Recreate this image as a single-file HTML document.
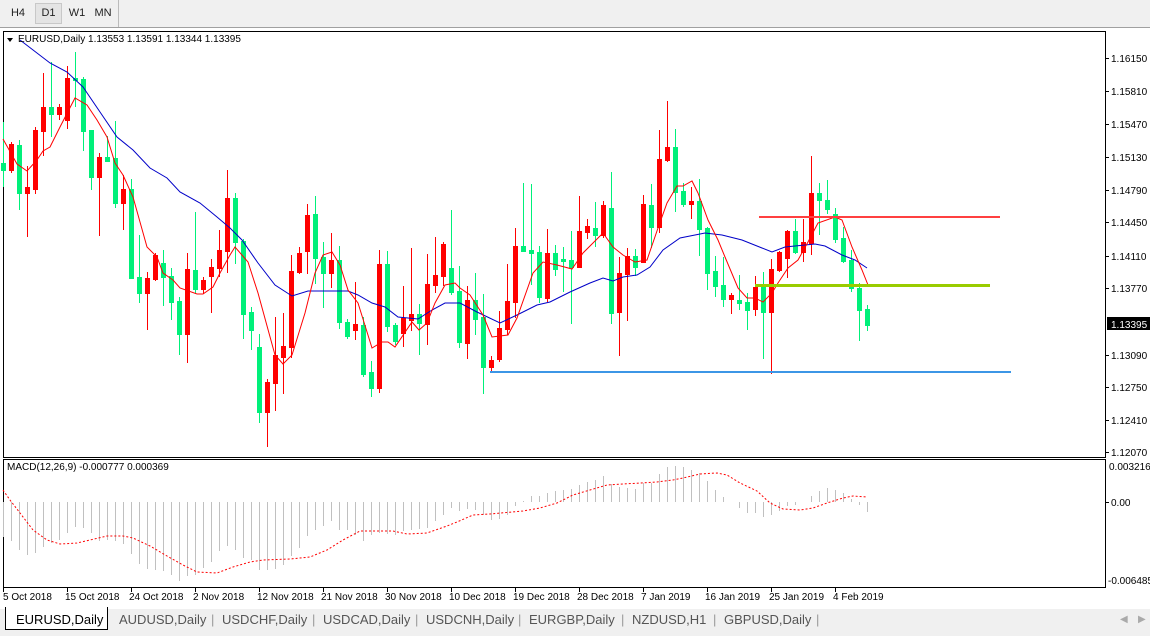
<!DOCTYPE html>
<html><head><meta charset="utf-8"><style>
body{margin:0;width:1150px;height:636px;background:#fff;overflow:hidden;font-family:"Liberation Sans",sans-serif;}
.tb{position:absolute;left:0;top:0;width:1150px;height:27px;background:#f0f0f0;border-bottom:1px solid #a0a0a0;}
.tb span{position:absolute;top:4px;height:19px;font-size:11px;line-height:19px;text-align:center;color:#222;}
.tabs{position:absolute;left:0;top:609px;width:1150px;height:27px;background:#f0f0f0;}
.tabs span{position:absolute;top:3px;font-size:13px;color:#555;}
</style></head><body>
<div class="tb">
<span style="left:5px;width:26px">H4</span>
<span style="left:35px;width:25px;background:#e4e4e4;border:1px solid #c8c8c8;top:3px">D1</span>
<span style="left:64px;width:26px">W1</span>
<span style="left:92px;width:22px">MN</span>
<div style="position:absolute;left:118px;top:0;width:1px;height:27px;background:#bbb"></div>
</div>
<svg id="s" width="1150" height="636" style="position:absolute;left:0;top:0" font-family="Liberation Sans, sans-serif" font-size="10"></svg>
<div class="tabs">
<div style="position:absolute;left:5px;top:-2px;width:101px;height:22px;background:#fff;border:1px solid #000;border-top:none"></div>
<span style="left:16px;color:#000;top:3px">EURUSD,Daily</span>
<span style="left:119px">AUDUSD,Daily</span>
<span style="left:222px">USDCHF,Daily</span>
<span style="left:323px">USDCAD,Daily</span>
<span style="left:426px">USDCNH,Daily</span>
<span style="left:529px">EURGBP,Daily</span>
<span style="left:632px">NZDUSD,H1</span>
<span style="left:724px">GBPUSD,Daily</span>
<span style="left:211px;color:#999">|</span><span style="left:312px;color:#999">|</span><span style="left:415px;color:#999">|</span><span style="left:518px;color:#999">|</span><span style="left:621px;color:#999">|</span><span style="left:713px;color:#999">|</span><span style="left:816px;color:#999">|</span>
<span style="left:1120px;color:#aaa;font-size:10px;top:5px">◀</span><span style="left:1138px;color:#aaa;font-size:10px;top:5px">▶</span>
</div>
<script>
var NS="http://www.w3.org/2000/svg",s=document.getElementById('s');
function el(t,a,txt){var e=document.createElementNS(NS,t);for(var k in a)e.setAttribute(k,a[k]);if(txt!=null)e.textContent=txt;s.appendChild(e);return e;}
el('rect',{x:3.5,y:31.5,width:1102,height:426,fill:'none',stroke:'#000'});
el('rect',{x:3.5,y:459.5,width:1102,height:128,fill:'none',stroke:'#000'});
var C=[[3,163,170,122,186,0],[11,144,170,142,172,1],[19,145,193,140,209,0],[27,187,193,166,236,1],[35,130,189,127,193,1],[43,107,131,73,155,1],[51,107,114,62,136,0],[59,107,114,104,119,1],[67,78,120,66,128,1],[75,78,80,52,106,0],[83,79,131,77,150,0],[91,130,177,130,189,0],[99,157,177,153,235,1],[107,157,161,136,161,0],[115,158,203,121,207,0],[123,189,203,175,229,1],[131,189,278,179,278,0],[139,277,293,235,302,0],[147,278,293,272,329,1],[155,255,279,253,280,1],[163,263,277,250,305,0],[171,276,302,268,319,0],[179,301,334,297,354,0],[187,269,334,253,362,1],[195,270,289,212,293,0],[203,280,289,277,293,1],[211,267,276,259,312,1],[219,250,268,230,276,1],[227,198,251,170,272,1],[235,198,242,193,263,0],[243,241,314,239,338,0],[251,312,330,307,349,0],[259,347,412,334,422,0],[267,382,412,379,446,1],[275,355,383,317,410,1],[283,346,357,313,393,1],[291,271,347,255,357,1],[299,253,272,247,273,1],[307,215,251,204,273,1],[315,214,258,196,283,0],[323,257,273,242,307,0],[331,260,273,233,287,1],[339,260,322,246,328,0],[347,322,336,319,338,0],[355,324,330,282,339,1],[363,325,374,317,376,0],[371,372,388,361,396,0],[379,264,388,250,392,1],[387,264,326,251,331,0],[395,325,341,323,344,0],[403,318,333,286,346,1],[411,314,320,248,330,1],[419,314,323,304,354,0],[427,284,324,254,344,1],[435,275,285,237,292,1],[443,244,276,242,285,1],[451,268,292,210,294,0],[459,291,342,266,347,0],[467,300,343,286,358,1],[475,300,319,273,334,0],[483,317,367,294,393,0],[491,360,367,356,371,1],[499,328,359,311,361,1],[507,301,329,264,334,1],[515,246,302,228,317,1],[523,246,251,183,251,0],[531,250,253,184,284,0],[539,252,297,246,302,0],[547,253,298,229,301,1],[555,253,269,245,275,0],[563,259,261,247,291,0],[571,260,267,231,323,0],[579,231,267,196,267,1],[587,226,232,219,238,1],[595,228,235,202,246,0],[603,205,235,201,237,1],[611,208,313,172,323,0],[619,273,312,257,355,1],[627,256,274,248,320,1],[635,256,267,249,275,0],[643,204,262,195,262,1],[651,205,227,184,247,0],[659,159,227,130,232,1],[667,147,160,101,161,1],[675,147,192,129,211,0],[683,191,204,183,206,0],[691,201,204,187,218,1],[699,201,229,179,255,0],[707,228,273,227,289,0],[715,271,286,256,296,0],[723,285,299,257,306,0],[731,295,299,293,313,1],[739,300,303,275,309,0],[747,302,310,293,329,0],[755,287,309,276,315,1],[763,287,312,272,358,0],[771,269,312,259,373,1],[779,252,270,251,271,1],[787,231,258,230,277,1],[795,231,252,219,253,0],[803,242,252,219,261,1],[811,193,243,156,254,1],[819,193,200,183,234,0],[827,200,209,180,213,0],[835,214,239,208,242,0],[843,238,261,227,262,0],[851,260,288,250,291,0],[859,288,310,283,340,0],[867,309,325,305,330,0]];
C.forEach(function(c){var col=c[5]?'#ff0000':'#00f07a';
el('rect',{x:c[0],y:c[3],width:1,height:c[4]-c[3]+1,fill:col});
el('rect',{x:c[0]-2,y:c[1],width:5,height:Math.max(1,c[2]-c[1]+1),fill:col});});
function pl(p,col,w,d){el('polyline',{points:p,fill:'none',stroke:col,'stroke-width':w,'stroke-dasharray':d||'none'});}
pl("20,40 50,63 67,72 83,87 100,112 117,137 133,150 150,168 167,178 180,192 200,203 217,217 230,228 242,240 258,263 275,285 292,296 308,291 325,291 348,291 358,295 372,303 385,307 398,317 418,319 432,310 445,303 460,303 477,312 500,323 517,315 537,305 550,302 570,292 590,283 603,278 613,281 623,277 637,275 650,267 663,250 680,238 705,233 722,235 742,240 762,248 772,252 785,247 815,244 825,246 842,255 855,260 867,268",'#0000c8',1);
pl("3,139 17,164 27,171 37,160 43,151 50,147 60,127 75,98 87,105 97,120 107,137 115,163 123,175 133,197 147,247 157,257 163,273 173,280 180,288 197,294 203,294 213,287 220,273 230,255 235,247 248,262 258,293 275,355 283,364 292,355 305,313 315,273 323,255 332,252 340,265 348,290 358,303 372,348 382,342 388,342 395,347 412,322 419,330 427,323 435,303 445,285 455,283 460,288 470,295 483,315 492,337 508,335 517,318 533,273 543,262 557,265 572,269 583,253 593,243 603,233 613,247 623,255 635,262 647,260 658,228 667,203 677,186 683,186 692,181 698,193 708,220 718,240 725,257 738,288 747,298 755,298 763,302 772,293 778,283 788,268 798,260 808,242 818,223 835,217 842,220 852,247 862,270 868,285",'#ff0000',1);
el('rect',{x:759,y:216,width:241,height:2,fill:'#ff4040'});
el('rect',{x:755,y:284,width:235,height:3,fill:'#99cc00'});
el('rect',{x:490,y:371,width:521,height:2,fill:'#3c96e6'});
var P=[["1.16150",58],["1.15810",91],["1.15470",124],["1.15130",157],["1.14790",190],["1.14450",222],["1.14110",256],["1.13770",288],["1.13090",355],["1.12750",387],["1.12410",420],["1.12070",452]];
P.forEach(function(p){el('rect',{x:1106,y:p[1],width:3,height:1,fill:'#000'});el('text',{x:1111,y:p[1]+4},p[0]);});
el('rect',{x:1107,y:317,width:43,height:13,fill:'#000'});
el('text',{x:1111,y:328,fill:'#fff'},"1.13395");
el('text',{x:1109,y:470},"0.003216");el('text',{x:1111,y:506},"0.00");el('rect',{x:1106,y:502,width:3,height:1,fill:'#000'});
el('text',{x:1108,y:584},"-0.006485");
el('path',{d:'M7 38 L13 38 L10 42 Z',fill:'#000'});
el('text',{x:18,y:42},"EURUSD,Daily  1.13553 1.13591 1.13344 1.13395");
el('text',{x:7,y:470},"MACD(12,26,9) -0.000777 0.000369");
var H=[[3,537],[11,541],[19,550],[27,555],[35,553],[43,547],[51,543],[59,540],[67,533],[75,527],[83,528],[91,533],[99,541],[107,540],[115,541],[123,544],[131,554],[139,564],[147,569],[155,570],[163,571],[171,575],[179,581],[187,576],[195,575],[203,568],[211,562],[219,551],[227,546],[235,550],[243,558],[251,560],[259,570],[267,570],[275,569],[283,565],[291,556],[299,548],[307,536],[315,530],[323,526],[331,521],[339,530],[347,530],[355,535],[363,541],[371,535],[379,533],[387,534],[395,535],[403,531],[411,530],[419,529],[427,528],[435,521],[443,515],[451,508],[459,511],[467,509],[475,510],[483,515],[491,520],[499,519],[507,515],[515,506],[523,501],[531,496],[539,496],[547,493],[555,491],[563,490],[571,489],[579,485],[587,482],[595,480],[603,476],[611,484],[619,487],[627,488],[635,489],[643,483],[651,483],[659,474],[667,467],[675,466],[683,467],[691,470],[699,473],[707,481],[715,490],[723,497],[739,508],[747,513],[755,513],[763,517],[771,515],[779,511],[787,506],[795,505],[811,496],[819,491],[827,488],[835,490],[843,493],[851,499],[859,505],[867,512]];
H.forEach(function(h){var z=502;el('rect',{x:h[0],y:Math.min(z,h[1]),width:1,height:Math.max(1,Math.abs(h[1]-z)),fill:'#c0c0c0'});});
pl("3,490 10,500 20,513 33,530 47,540 60,544 77,543 90,540 107,536 123,536 133,538 150,546 167,556 183,565 197,572 217,573 233,567 250,562 263,560 290,559 310,557 327,550 343,540 360,531 393,531 407,534 427,533 447,526 457,522 473,515 490,514 523,511 540,508 557,503 573,495 590,490 607,485 640,483 657,482 673,480 683,478 700,474 717,473 727,475 740,483 757,491 770,503 783,509 800,510 813,508 827,503 843,498 853,496 867,497",'#ff0000',1,'2,2');
var D=[["5 Oct 2018",3],["15 Oct 2018",67],["24 Oct 2018",131],["2 Nov 2018",195],["12 Nov 2018",259],["21 Nov 2018",323],["30 Nov 2018",387],["10 Dec 2018",451],["19 Dec 2018",515],["28 Dec 2018",579],["7 Jan 2019",643],["16 Jan 2019",707],["25 Jan 2019",771],["4 Feb 2019",835]];
D.forEach(function(d){el('rect',{x:d[1],y:588,width:1,height:4,fill:'#000'});el('text',{x:(d[1]==3?3:d[1]-2),y:600},d[0]);});
</script>
</body></html>
